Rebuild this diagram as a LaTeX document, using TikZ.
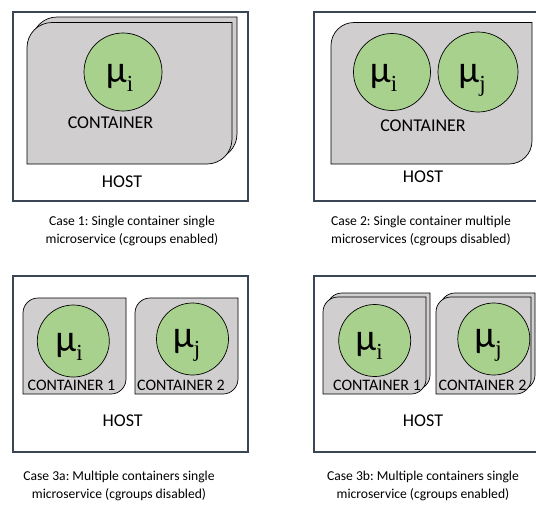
\documentclass[tikz,border=0pt]{standalone}
\usepackage{fontspec}
\setmainfont{Carlito}
\newfontfamily\subfont{Liberation Serif}
\frenchspacing
\definecolor{hostline}{RGB}{58,70,84}
\definecolor{ctrfill}{RGB}{208,206,206}
\definecolor{msfill}{RGB}{169,209,142}

% container outline: rectangle with rounded top-left and bottom-right corners
% #1 style, #2 x1, #3 y1, #4 x2, #5 y2, #6 corner radius
\newcommand\ctrshape[6][]{%
  \pgfmathsetmacro\ctrK{0.552*#6}%
  \pgfmathsetmacro\ctrXa{#2+#6}\pgfmathsetmacro\ctrYa{#3+#6}%
  \pgfmathsetmacro\ctrXb{#4-#6}\pgfmathsetmacro\ctrYb{#5-#6}%
  \path[ctr,#1] (#2,#5) -- (#2,\ctrYa)
    .. controls +(0,-\ctrK) and +(-\ctrK,0) .. (\ctrXa,#3) -- (#4,#3) -- (#4,\ctrYb)
    .. controls +(0,\ctrK) and +(\ctrK,0) .. (\ctrXb,#5) -- cycle;}

\newcommand\musym[1]{{\fontsize{38}{38}\selectfont μ}\raisebox{-9pt}{\subfont\fontsize{23}{23}\selectfont #1}}

\tikzset{
  host/.style={draw=hostline, line width=1.4pt, fill=white},
  ctr/.style={draw=black, line width=0.7pt, fill=ctrfill},
  ms/.style={circle, draw=black, line width=0.7pt, fill=msfill, inner sep=0pt, minimum size=#1},
  mslabel/.style={anchor=base, inner sep=0pt},
  biglabel/.style={font=\fontsize{18}{20}\selectfont, inner sep=0pt},
  smalllabel/.style={font=\fontsize{16}{18}\selectfont, inner sep=0pt},
  caption/.style={align=center, font=\fontsize{13.6}{18}\selectfont, inner sep=0pt},
}

\begin{document}
\begin{tikzpicture}[x=1pt, y=-1pt]
\useasboundingbox (0,0) rectangle (536,504);
\clip (0,0) rectangle (536,504);

% ---------- Case 1 ----------
\draw[host] (13,12) rectangle (248,201);
\ctrshape{32}{17}{237}{159}{25}
\ctrshape{27}{22.5}{232}{164}{25}
\node[ms=78pt] (c1i) at (123,72) {};
\node[mslabel] (c1il) at (119.5,82) {\musym{i}};
\node[biglabel] (c1c) at (110.5,123) {CONTAINER};
\node[biglabel] (c1h) at (122,182) {HOST};
\node[caption] (c1cap) at (132,231) {Case 1: Single container single\\microservice (cgroups enabled)};

% ---------- Case 2 ----------
\draw[host] (314,12) rectangle (549,201);
\ctrshape{331}{22.5}{532}{164}{23}
\node[ms=77pt] (c2i) at (392,72) {};
\node[ms=80pt] (c2j) at (478,72) {};
\node[mslabel] (c2il) at (383.5,82) {\musym{i}};
\node[mslabel] (c2jl) at (472,82) {\musym{j}};
\node[biglabel] (c2c) at (423,126) {CONTAINER};
\node[biglabel] (c2h) at (423,177) {HOST};
\node[caption] (c2cap) at (421,231) {Case 2: Single container multiple\\microservices (cgroups disabled)};

% ---------- Case 3a ----------
\draw[host] (13,276) rectangle (248,452);
\ctrshape{23}{298}{126}{394}{15}
\ctrshape{135}{298}{238}{394}{15}
\node[ms=72pt] (c3ai) at (73.3,341) {};
\node[ms=72pt] (c3aj) at (192.5,339) {};
\node[mslabel] (c3ail) at (69,351) {\musym{i}};
\node[mslabel] (c3ajl) at (186.5,347) {\musym{j}};
\node[smalllabel] (c3ac1) at (71.5,385) {CONTAINER 1};
\node[smalllabel] (c3ac2) at (181,385) {CONTAINER 2};
\node[biglabel] (c3ah) at (122.7,420.5) {HOST};
\node[caption] (c3acap) at (119,486) {Case 3a: Multiple containers single\\microservice (cgroups disabled)};

% ---------- Case 3b ----------
\draw[host] (314,276) rectangle (549,452);
\ctrshape{327}{293}{430}{390}{15}
\ctrshape{323}{297}{426}{394}{15}
\ctrshape{440}{293}{535}{390}{15}
\ctrshape{436}{297}{531}{394}{15}
\node[ms=72pt] (c3bi) at (374.7,340.5) {};
\node[ms=72pt] (c3bj) at (493.8,339) {};
\node[mslabel] (c3bil) at (369,350) {\musym{i}};
\node[mslabel] (c3bjl) at (488,347) {\musym{j}};
\node[smalllabel] (c3bc1) at (377,385) {CONTAINER 1};
\node[smalllabel] (c3bc2) at (482.5,385) {CONTAINER 2};
\node[biglabel] (c3bh) at (423,420.5) {HOST};
\node[caption] (c3bcap) at (423,486) {Case 3b: Multiple containers single\\microservice (cgroups enabled)};
\end{tikzpicture}
\end{document}
